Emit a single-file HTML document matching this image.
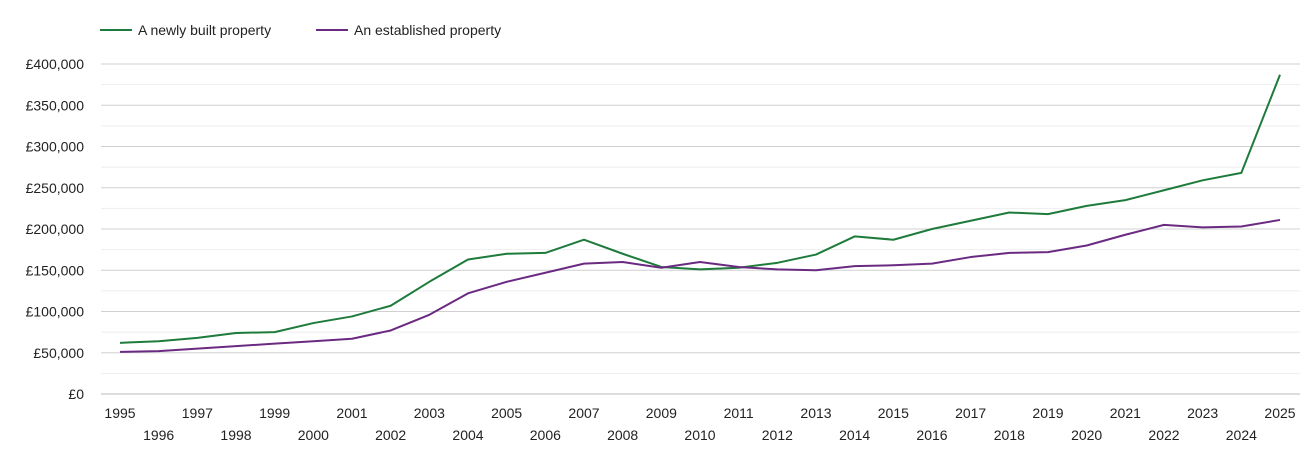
<!DOCTYPE html>
<html><head><meta charset="utf-8"><style>
body{margin:0;background:#fff;font-family:"Liberation Sans",sans-serif;}
svg text{font-family:"Liberation Sans",sans-serif;font-size:14px;fill:#222;}
</style></head><body>
<svg id="chart" width="1305" height="450">
<g>
<g><line x1="100" y1="30" x2="132" y2="30" stroke="#1e7b3c" stroke-width="2"/><text x="138" y="35">A newly built property</text></g>
<g><line x1="316" y1="30" x2="348" y2="30" stroke="#6b2a82" stroke-width="2"/><text x="354" y="35">An established property</text></g>
</g>
<g id="grid"></g>
<g id="yaxis"></g>
<g id="xaxis"></g>
<g id="series"></g>
</svg>
<script>
const years=[1995,1996,1997,1998,1999,2000,2001,2002,2003,2004,2005,2006,2007,2008,2009,2010,2011,2012,2013,2014,2015,2016,2017,2018,2019,2020,2021,2022,2023,2024,2025];
const newBuilt=[62,64,68,74,75,86,94,107,136,163,170,171,187,170,154,151,153,159,169,191,187,200,210,220,218,228,235,247,259,268,387];
const established=[51,52,55,58,61,64,67,77,96,122,136,147,158,160,153,160,154,151,150,155,156,158,166,171,172,180,193,205,202,203,211];
const yTicks=[0,50,100,150,200,250,300,350,400];
const yTickLabels=["£0","£50,000","£100,000","£150,000","£200,000","£250,000","£300,000","£350,000","£400,000"];
const NS="http://www.w3.org/2000/svg";
const x=y=>120+(y-1995)*(1160/30);
const yS=v=>394-v*0.825;
function mk(tag,attrs,parent,txt){const e=document.createElementNS(NS,tag);for(const k in attrs)e.setAttribute(k,attrs[k]);if(txt!==undefined)e.textContent=txt;parent.appendChild(e);return e;}
const grid=document.getElementById('grid'),ya=document.getElementById('yaxis'),xa=document.getElementById('xaxis'),se=document.getElementById('series');
for(let v=25;v<=400;v+=50){const l=mk('line',{x1:101,x2:1300,y1:yS(v),y2:yS(v),stroke:'#eeeeee'},grid);

}
yTicks.forEach((v,i)=>{const l=mk('line',{x1:101,x2:1300,y1:yS(v),y2:yS(v),stroke:v===0?'#bbb':'#d0d0d0'},grid);


const t=mk('text',{x:84,y:yS(v)+5,'text-anchor':'end'},ya,yTickLabels[i]);

});
years.forEach((y,i)=>{const t=mk('text',{x:x(y),y:i%2===0?418:440,'text-anchor':'middle'},xa,String(y));

});
function line(arr,color,name){const p=mk('polyline',{points:arr.map((v,i)=>x(years[i])+','+yS(v)).join(' '),fill:'none',stroke:color,'stroke-width':2,'stroke-linejoin':'round'},se);

}
line(newBuilt,'#1e7b3c','line-newly-built');
line(established,'#6b2a82','line-established');
</script>
</body></html>
